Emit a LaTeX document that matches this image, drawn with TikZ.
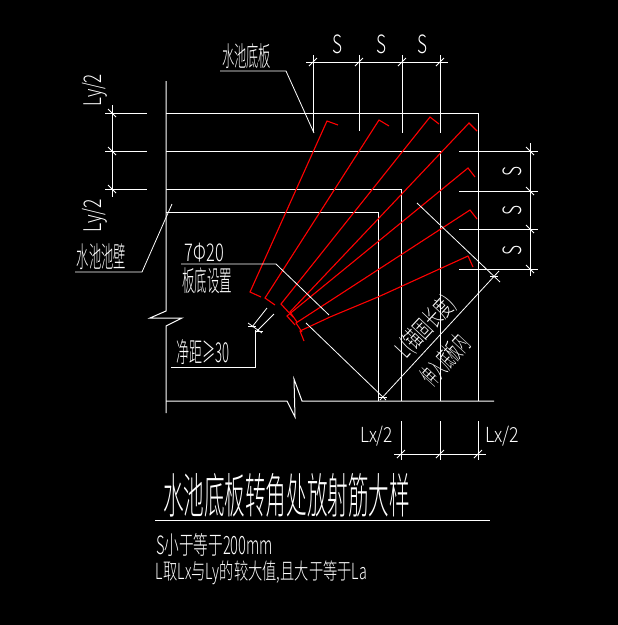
\documentclass[tikz,border=0pt]{standalone}
\usepackage{fontspec}
\usepackage{graphicx}
\setmainfont{Noto Sans CJK SC Light}
\newcommand{\cadtxt}[7]{\node[cadtext,rotate=#6] (#1) at (#2,#3) {\resizebox*{#4pt}{#5pt}{#7}};}
\tikzset{
  cadtext/.style={inner sep=0pt,outer sep=0pt,text=white,anchor=center},
  heavy/.style={draw=white,line width=1pt},
  fine/.style={draw=white,line width=0.8pt},
  thin red/.style={draw=red,line width=1.1pt,line join=miter}
}
\begin{document}
\begin{tikzpicture}[x=1pt,y=-1pt]
\fill[black] (0,0) rectangle (618,625);
\useasboundingbox (0,0) rectangle (618,625);
% slab and wall outlines
\draw[heavy] (166,81)--(166,311)--(150,318)--(182,318)--(166,326)--(166,413);
\draw[heavy] (166,113)--(478,113)--(478,401);
\draw[heavy] (166,151)--(440,151)--(440,401);
\draw[heavy] (166,189)--(401,189)--(401,401);
\draw[heavy] (166,212)--(378,212)--(378,401);
\draw[heavy] (166,401)--(287,401)--(295,417)--(294,379)--(302,401)--(494,401);
% left dimension
\draw[fine] (112,105)--(112,197);
\foreach \y in {113,151,189}{
  \draw[heavy] (105,\y)--(147,\y);
  \draw[fine] (108,\y-4)--(116,\y+4);
}
% top dimension
\draw[fine] (306,62)--(448,62);
\foreach \x/\e in {313/132,359/131,402/133,440/133}{
  \draw[fine] (\x,55)--(\x,\e);
  \draw[fine] (\x-4,66)--(\x+4,58);
}
% right dimension
\draw[fine] (530,143)--(530,276);
\foreach \y in {151,191,229,269}{
  \draw[heavy] (459,\y)--(538,\y);
  \draw[fine] (526,\y-4)--(534,\y+4);
}
% bottom dimension
\draw[fine] (394,454)--(486,454);
\foreach \x in {401,440,478}{
  \draw[fine] (\x,421)--(\x,460);
  \draw[fine] (\x-4,458)--(\x+4,450);
}
% red radial bars
\draw[thin red] (338,125)--(327,121)--(250,292)--(261,297);
\draw[thin red] (389,126)--(379,120)--(265,298)--(275,305);
\draw[thin red] (439,124)--(430,117)--(281,304)--(293,317);
\draw[thin red] (477,131)--(469,123)--(290,312)--(297,322);
\draw[thin red] (475,177)--(468,168)--(287,316)--(295,325);
\draw[thin red] (477,219)--(470,210)--(296,323)--(302,332);
\draw[thin red] (473,267)--(468,256)--(378,297)--(330,317)--(300,331)--(304,341);
% leaders
\draw[fine] (220,71)--(286,71)--(314,133);
\draw[fine] (75,272)--(142,272)--(172,204);
\draw[fine] (181,264)--(276,264)--(329,315);
\draw[fine] (306,323)--(386,400);
\draw[fine] (380,400)--(499,271);
\draw[fine] (417,203)--(500,282);
\draw[fine] (490,276)--(498,276);
\draw[fine] (379,397)--(387,397);
% clear spacing dimension
\draw[fine] (171,367)--(255,367)--(255,330);
\draw[fine] (267,308)--(252,327);
\draw[fine] (274,314)--(256,332);
\draw[fine] (248,326)--(256,326);
\draw[fine] (255,331)--(263,331);
\draw[fine] (248,323)--(262,333);
% title rule
\draw[heavy] (155,520)--(490,520);
% texts
\cadtxt{tS1}{337}{44}{10}{19}{0}{S}
\cadtxt{tS2}{381}{44}{10}{19}{0}{S}
\cadtxt{tS3}{422}{44}{10}{19}{0}{S}
\cadtxt{tS4}{512}{171}{10}{19}{90}{S}
\cadtxt{tS5}{512}{210}{10}{19}{90}{S}
\cadtxt{tS6}{512}{250}{10}{19}{90}{S}
\cadtxt{tLy1}{95}{90}{32}{25}{90}{Ly/2}
\cadtxt{tLy2}{95}{215.500}{33}{25}{90}{Ly/2}
\cadtxt{tLx1}{376.500}{436}{33}{20}{0}{Lx/2}
\cadtxt{tLx2}{502}{436}{34}{20}{0}{Lx/2}
\cadtxt{tSlab}{246.500}{56}{49}{25}{0}{水池底板}
\cadtxt{tWall}{101.500}{256.500}{49}{26}{0}{水池池壁}
\cadtxt{tBar}{204.500}{252.500}{39}{19}{0}{7Φ20}
\cadtxt{tBot}{207}{281}{50}{26}{0}{板底设置}
\cadtxt{tGap}{202.500}{352}{53}{25}{0}{净距≥30}
\cadtxt{tLen}{426}{327}{74}{25}{47}{L(锚固长度)}
\cadtxt{tIn}{445}{360}{58}{23}{47}{伸入底板内}
\cadtxt{tTitle}{286.500}{495}{247}{44}{0}{水池底板转角处放射筋大样}
\cadtxt{tNoteA}{214.500}{545}{117}{23}{0}{S小于等于200mm}
\cadtxt{tNoteB}{261.500}{572.500}{211}{24}{0}{L取Lx与Ly的较大值,且大于等于La}
\end{tikzpicture}
\end{document}
